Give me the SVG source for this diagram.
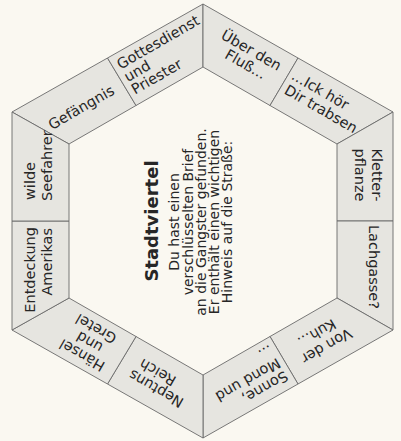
<svg xmlns="http://www.w3.org/2000/svg" width="401" height="441" viewBox="0 0 401 441">
<style>
.bg{fill:#faf8f1}
.seg{fill:#e6e5e0;stroke:#6a6a6a;stroke-width:0.9;stroke-linejoin:round}
text{font-family:"DejaVu Sans","Liberation Sans",sans-serif;fill:#262626}
.l{font-size:14.5px}
.m{text-anchor:middle}
.e{text-anchor:end}
.t{font-size:18px;font-weight:bold;text-anchor:middle}
.b{font-size:14px;text-anchor:middle}
</style>
<rect class="bg" x="0" y="0" width="401" height="441"/>

<g id="seg-gefaengnis">
<polygon class="seg" points="12,112 107.5,58 136,105.5 69,144"/>
<g transform="translate(121.75,81.75) rotate(-30)"><text class="l m" x="-48" y="7">Gefängnis</text></g>
</g>
<g id="seg-gottesdienst">
<polygon class="seg" points="107.5,58 203,4 203,67 136,105.5"/>
<g transform="translate(121.75,81.75) rotate(-30)"><text class="l" x="5" y="-11">Gottesdienst</text><text class="l" x="5" y="3.5">und</text><text class="l" x="5" y="18">Priester</text></g>
</g>
<g id="seg-ueber-den-fluss">
<polygon class="seg" points="203,4 298,58 270,105.5 203,67"/>
<g transform="translate(284,81.75) rotate(30)"><text class="l m" x="-44" y="-6">Über den</text><text class="l m" x="-42" y="9">Fluß...</text></g>
</g>
<g id="seg-ick-hoer">
<polygon class="seg" points="298,58 393,112 337,144 270,105.5"/>
<g transform="translate(284,81.75) rotate(30)"><text class="l" x="4" y="-6">...Ick hör</text><text class="l" x="5" y="10">Dir trabsen</text></g>
</g>
<g id="seg-kletterpflanze">
<polygon class="seg" points="393,112 393,221 337,221 337,144"/>
<g transform="translate(365,221) rotate(90)"><text class="l m" x="-46" y="-7">Kletter-</text><text class="l m" x="-46" y="10">pflanze</text></g>
</g>
<g id="seg-lachgasse">
<polygon class="seg" points="393,221 393,330 337,298 337,221"/>
<g transform="translate(365,221) rotate(90)"><text class="l m" x="46" y="-4">Lachgasse?</text></g>
</g>
<g id="seg-von-der-kuh">
<polygon class="seg" points="393,330 298,384 270,336.5 337,298"/>
<g transform="translate(284,360.25) rotate(150)"><text class="l m" x="-44" y="-4">Von der</text><text class="l m" x="-42" y="12">Kuh...</text></g>
</g>
<g id="seg-sonne-mond">
<polygon class="seg" points="298,384 203,438 203,375 270,336.5"/>
<g transform="translate(284,360.25) rotate(150)"><text class="l" x="5" y="-9">Sonne,</text><text class="l" x="5" y="6">Mond und</text><text class="l" x="5" y="21">...</text></g>
</g>
<g id="seg-neptuns-reich">
<polygon class="seg" points="203,438 107.5,384 136,336.5 203,375"/>
<g transform="translate(121.75,360.25) rotate(210)"><text class="l m" x="-44" y="-2.5">Neptuns</text><text class="l m" x="-37" y="12.5">Reich</text></g>
</g>
<g id="seg-haensel-gretel">
<polygon class="seg" points="107.5,384 12,330 69,298 136,336.5"/>
<g transform="translate(121.75,360.25) rotate(210)"><text class="l m" x="37" y="-10.5">Hänsel</text><text class="l m" x="37" y="4.5">und</text><text class="l m" x="38" y="19.5">Gretel</text></g>
</g>
<g id="seg-entdeckung">
<polygon class="seg" points="12,330 12,221 69,221 69,298"/>
<g transform="translate(40.5,221) rotate(-90)"><text class="l e" x="-6" y="-5.5">Entdeckung</text><text class="l e" x="-7" y="11.5">Amerikas</text></g>
</g>
<g id="seg-wilde-seefahrer">
<polygon class="seg" points="12,221 12,112 69,144 69,221"/>
<g transform="translate(40.5,221) rotate(-90)"><text class="l" x="21" y="-5.5">wilde</text><text class="l" x="20" y="11">Seefahrer</text></g>
</g>

<g id="center">
<g transform="translate(204,221) rotate(-90)">
<text class="t" x="0" y="-46">Stadtviertel</text>
<text class="b" x="-1" y="-25">Du hast einen</text>
<text class="b" x="-1" y="-11">verschlüsselten Brief</text>
<text class="b" x="-1" y="2">an die Gangster gefunden.</text>
<text class="b" x="-1" y="15">Er enthält einen wichtigen</text>
<text class="b" x="-1" y="28">Hinweis auf die Straße:</text>
</g>
</g>
<g id="connectors"/>
</svg>
